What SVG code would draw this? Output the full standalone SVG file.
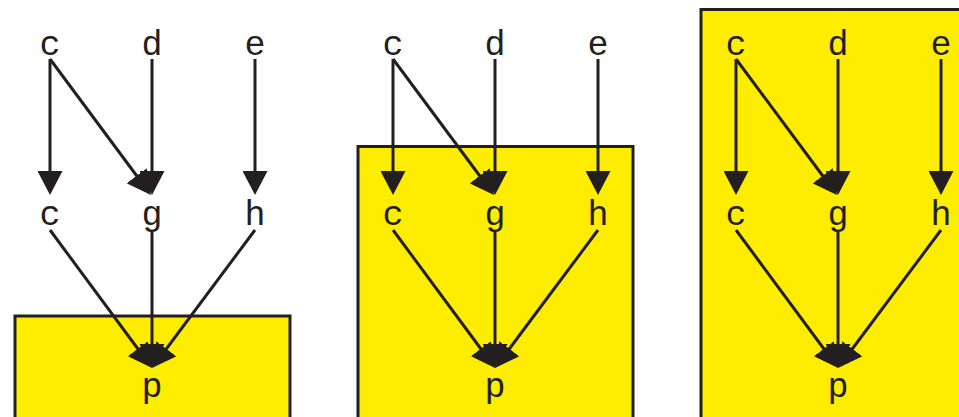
<svg xmlns="http://www.w3.org/2000/svg" width="959" height="417" viewBox="0 0 959 417">
  <style>
    .box { fill: #ffed00; stroke: #231f20; stroke-width: 3; }
    .lbl { font-family: "Liberation Mono", "Courier New", monospace; font-size: 35px; fill: #231f20; text-anchor: middle; }
    .edge { stroke: #231f20; stroke-width: 3; fill: none; marker-end: url(#ah); }
  </style>
  <defs>
    <marker id="ah" markerUnits="userSpaceOnUse" viewBox="0 0 24 25" markerWidth="24" markerHeight="25" refX="14" refY="12.5" orient="auto">
      <path d="M0,0 L24,12.5 L0,25 Z" fill="#231f20"/>
    </marker>
  </defs>

  <!-- cluster boxes -->
  <g id="cluster1"><rect class="box" x="15" y="316" width="275" height="130"/></g>
  <g id="cluster2"><rect class="box" x="358" y="146.5" width="275" height="300"/></g>
  <g id="cluster3"><rect class="box" x="701" y="9.5" width="275" height="440"/></g>

  <!-- connectors -->
  <g id="connectors">
    <line class="edge" x1="50" y1="59" x2="50" y2="185"/>
    <line class="edge" x1="50" y1="59" x2="145" y2="187"/>
    <line class="edge" x1="152" y1="59" x2="152" y2="185"/>
    <line class="edge" x1="255" y1="59" x2="255" y2="185"/>
    <line class="edge" x1="50" y1="230" x2="146.1" y2="360"/>
    <line class="edge" x1="152" y1="232" x2="152" y2="358"/>
    <line class="edge" x1="255" y1="230" x2="158" y2="360"/>
    <line class="edge" x1="393" y1="59" x2="393" y2="185"/>
    <line class="edge" x1="393" y1="59" x2="488" y2="187"/>
    <line class="edge" x1="495" y1="59" x2="495" y2="185"/>
    <line class="edge" x1="598" y1="59" x2="598" y2="185"/>
    <line class="edge" x1="393" y1="230" x2="489.1" y2="360"/>
    <line class="edge" x1="495" y1="232" x2="495" y2="358"/>
    <line class="edge" x1="598" y1="230" x2="501" y2="360"/>
    <line class="edge" x1="736" y1="59" x2="736" y2="185"/>
    <line class="edge" x1="736" y1="59" x2="831" y2="187"/>
    <line class="edge" x1="838" y1="59" x2="838" y2="185"/>
    <line class="edge" x1="941" y1="59" x2="941" y2="185"/>
    <line class="edge" x1="736" y1="230" x2="832.1" y2="360"/>
    <line class="edge" x1="838" y1="232" x2="838" y2="358"/>
    <line class="edge" x1="941" y1="230" x2="844" y2="360"/>
  </g>

  <g id="p1-c"><text class="lbl" x="50" y="55">c</text></g>
  <g id="p1-d"><text class="lbl" x="152" y="55">d</text></g>
  <g id="p1-e"><text class="lbl" x="255" y="55">e</text></g>
  <g id="p1-c2"><text class="lbl" x="50" y="225">c</text></g>
  <g id="p1-g"><text class="lbl" x="152" y="225">g</text></g>
  <g id="p1-h"><text class="lbl" x="255" y="225">h</text></g>
  <g id="p1-p"><text class="lbl" x="152" y="397">p</text></g>

  <g id="p2-c"><text class="lbl" x="393" y="55">c</text></g>
  <g id="p2-d"><text class="lbl" x="495" y="55">d</text></g>
  <g id="p2-e"><text class="lbl" x="598" y="55">e</text></g>
  <g id="p2-c2"><text class="lbl" x="393" y="225">c</text></g>
  <g id="p2-g"><text class="lbl" x="495" y="225">g</text></g>
  <g id="p2-h"><text class="lbl" x="598" y="225">h</text></g>
  <g id="p2-p"><text class="lbl" x="495" y="397">p</text></g>

  <g id="p3-c"><text class="lbl" x="736" y="55">c</text></g>
  <g id="p3-d"><text class="lbl" x="838" y="55">d</text></g>
  <g id="p3-e"><text class="lbl" x="941" y="55">e</text></g>
  <g id="p3-c2"><text class="lbl" x="736" y="225">c</text></g>
  <g id="p3-g"><text class="lbl" x="838" y="225">g</text></g>
  <g id="p3-h"><text class="lbl" x="941" y="225">h</text></g>
  <g id="p3-p"><text class="lbl" x="838" y="397">p</text></g>
</svg>
